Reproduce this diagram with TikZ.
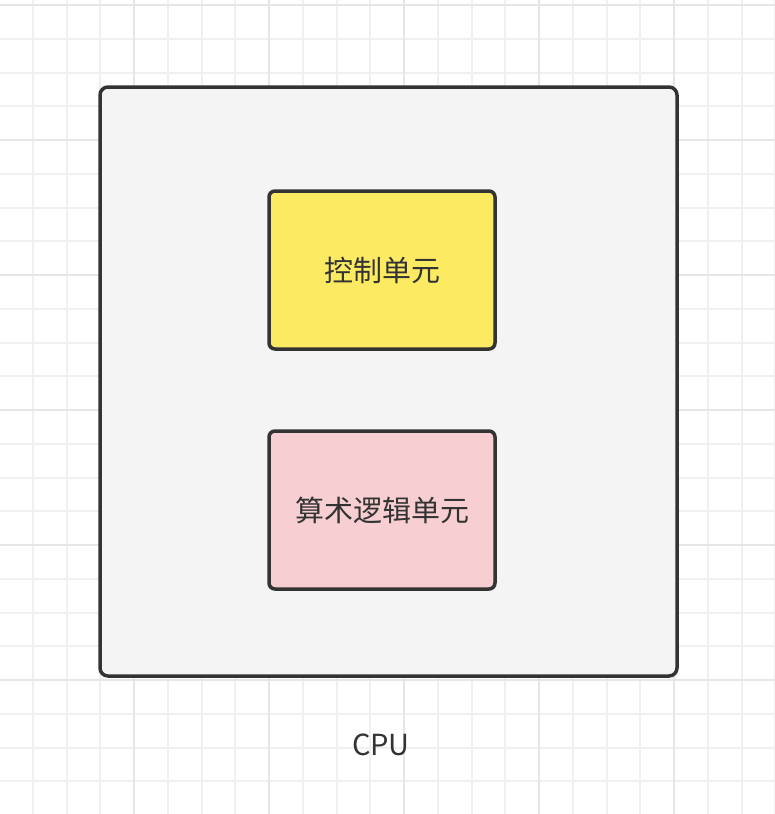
\documentclass[tikz,border=0pt]{standalone}
\usepackage{fontspec}
\setmainfont{Noto Sans CJK SC}
\definecolor{gridminor}{HTML}{F0F0F0}
\definecolor{gridmajor}{HTML}{E6E6E6}
\definecolor{boxline}{HTML}{333333}
\definecolor{cpufill}{HTML}{F4F4F4}
\definecolor{cufill}{HTML}{FCEA62}
\definecolor{alufill}{HTML}{F7CED1}
\tikzset{
  unitbox/.style={draw=boxline, line width=3.5pt, rounded corners=6pt,
    minimum width=226pt, minimum height=158pt, inner sep=0pt,
    text=boxline, font=\fontsize{29pt}{34pt}\selectfont},
  cpubox/.style={draw=boxline, line width=3.5pt, rounded corners=8pt,
    fill=cpufill, minimum width=577pt, minimum height=589pt, inner sep=0pt},
  lbl/.style={text=boxline, font=\fontsize{29pt}{34pt}\selectfont, inner sep=0pt}
}
\begin{document}
\begin{tikzpicture}[x=1pt, y=-1pt]
\useasboundingbox (0,0) rectangle (775,814);
\fill[white] (0,0) rectangle (775,814);
% minor grid
\foreach \i in {0,...,23} {
  \draw[gridminor, line width=2pt] ({-1+33.75*\i},0) -- ({-1+33.75*\i},814);
}
\foreach \j in {0,...,24} {
  \draw[gridminor, line width=2pt] (0,{5+33.75*\j}) -- (775,{5+33.75*\j});
}
% major grid
\foreach \i in {0,...,5} {
  \draw[gridmajor, line width=2pt] ({-1+135*\i},0) -- ({-1+135*\i},814);
}
\foreach \j in {0,...,6} {
  \draw[gridmajor, line width=2pt] (0,{5+135*\j}) -- (775,{5+135*\j});
}
\node[cpubox] (cpu) at (388.5,381.5) {};
\node[unitbox, fill=cufill] (cu) at (382,270) {控制单元};
\node[unitbox, fill=alufill] (alu) at (382,510) {算术逻辑单元};
\node[lbl] (cpulabel) at (381,745) {CPU};
\end{tikzpicture}
\end{document}
